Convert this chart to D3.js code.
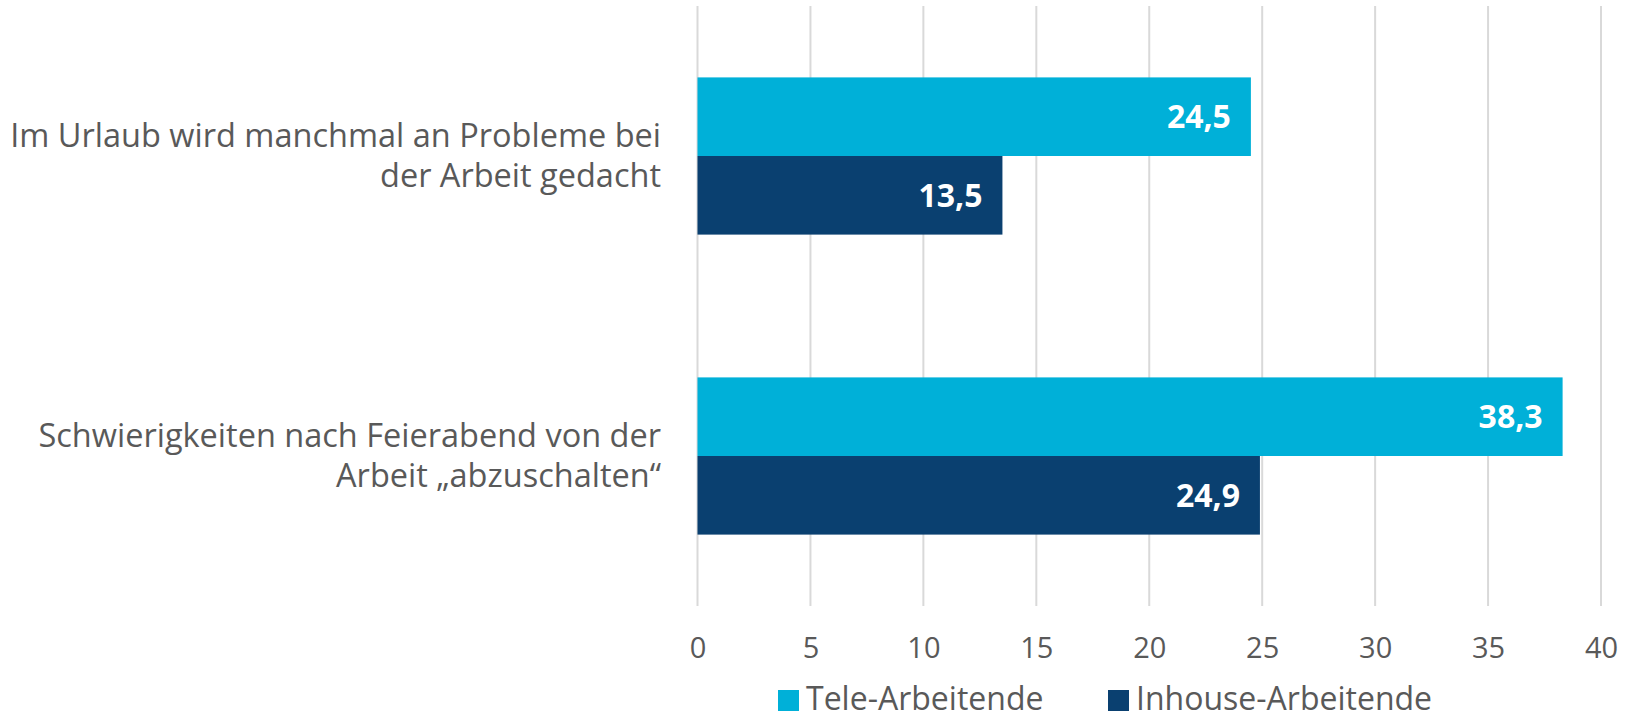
<!DOCTYPE html>
<html>
<head>
<meta charset="utf-8">
<script src="https://cdn.jsdelivr.net/npm/d3@7"></script>
<style>
  html, body { margin: 0; padding: 0; background: #fff; }
  svg { display: block; font-family: "Open Sans", sans-serif; }
</style>
</head>
<body>
<svg id="chart" width="1628" height="720"></svg>
<script>
// ---- data ----
var categories = ["urlaub", "feierabend"];
var categoryLines = [
  ["Im Urlaub wird manchmal an Probleme bei", "der Arbeit gedacht"],
  ["Schwierigkeiten nach Feierabend von der", "Arbeit „abzuschalten“"]
];
var seriesNames = ["Tele-Arbeitende", "Inhouse-Arbeitende"];
var teleValues = [24.5, 38.3];
var inhouseValues = [13.5, 24.9];
var xTicks = [0, 5, 10, 15, 20, 25, 30, 35, 40];

var colors = ["#00B0D8", "#0A4070"];
var textGrey = "#595959";

var svg = d3.select("#chart");
var margin = {left: 697.5, right: 27, top: 6, bottom: 114};
var width = 1628, height = 720;

// scales
var x = d3.scaleLinear().domain([0, 40]).range([margin.left, width - margin.right]);
var y = d3.scaleBand().domain(categories)
  .range([margin.top, height - margin.bottom])
  .paddingInner(0.476).paddingOuter(0.238);
var ySub = d3.scaleBand().domain(seriesNames).range([0, y.bandwidth()]);

var rows = categories.map(function(c, i) {
  return {cat: c, values: [teleValues[i], inhouseValues[i]]};
});

// gridlines
svg.append("g")
  .selectAll("line")
  .data(xTicks)
  .join("line")
  .attr("x1", d => x(d)).attr("x2", d => x(d))
  .attr("y1", margin.top).attr("y2", height - margin.bottom)
  .attr("stroke", "#D9D9D9")
  .attr("stroke-width", 2);

// x axis labels
var xAxis = svg.append("g")
  .attr("transform", "translate(0," + (height - margin.bottom) + ")")
  .call(d3.axisBottom(x).tickValues(xTicks).tickSize(0).tickPadding(31).tickFormat(d3.format("d")))
  .call(g => g.select(".domain").remove());
xAxis.selectAll("text")
  .attr("fill", textGrey)
  .attr("font-size", "29px")
  .attr("font-family", "'Open Sans', sans-serif");

// bars
var groups = svg.append("g")
  .selectAll("g")
  .data(rows)
  .join("g")
  .attr("transform", d => "translate(0," + y(d.cat) + ")");

groups.selectAll("rect")
  .data(d => d.values.map((v, i) => ({name: seriesNames[i], value: v, i: i})))
  .join("rect")
  .attr("x", x(0))
  .attr("y", d => ySub(d.name))
  .attr("width", d => x(d.value) - x(0))
  .attr("height", ySub.bandwidth())
  .attr("fill", d => colors[d.i]);

groups.selectAll("text.val")
  .data(d => d.values.map((v, i) => ({name: seriesNames[i], value: v, i: i})))
  .join("text")
  .attr("class", "val")
  .attr("x", d => x(d.value) - 20)
  .attr("y", d => ySub(d.name) + ySub.bandwidth() / 2)
  .attr("dy", "0.36em")
  .attr("text-anchor", "end")
  .attr("fill", "#fff")
  .attr("font-weight", "bold")
  .attr("font-size", "32px")
  .text(d => d3.format(".1f")(d.value).replace(".", ","));

// category labels
var lineH = 39.5;
var catLabels = svg.append("g")
  .selectAll("text")
  .data(rows)
  .join("text")
  .attr("text-anchor", "end")
  .attr("fill", textGrey)
  .attr("font-size", "32.5px")
  .attr("x", 661)
  .attr("y", d => y(d.cat) + y.bandwidth() / 2);

catLabels.selectAll("tspan")
  .data((d, i) => categoryLines[i].map((t, j, arr) => ({t: t, j: j, n: arr.length})))
  .join("tspan")
  .attr("x", 661)
  .attr("dy", d => d.j === 0 ? (-(d.n - 1) / 2 * lineH + 11) : lineH)
  .text(d => d.t);

// legend
var legendX = [778, 1108];
var legend = svg.append("g")
  .selectAll("g")
  .data(seriesNames)
  .join("g")
  .attr("transform", (d, i) => "translate(" + legendX[i] + ",690)");

legend.append("rect")
  .attr("width", 21).attr("height", 21)
  .attr("fill", (d, i) => colors[i]);

legend.append("text")
  .attr("x", 28)
  .attr("y", 20)
  .attr("fill", textGrey)
  .attr("font-size", "32px")
  .text(d => d);
</script>
</body>
</html>
